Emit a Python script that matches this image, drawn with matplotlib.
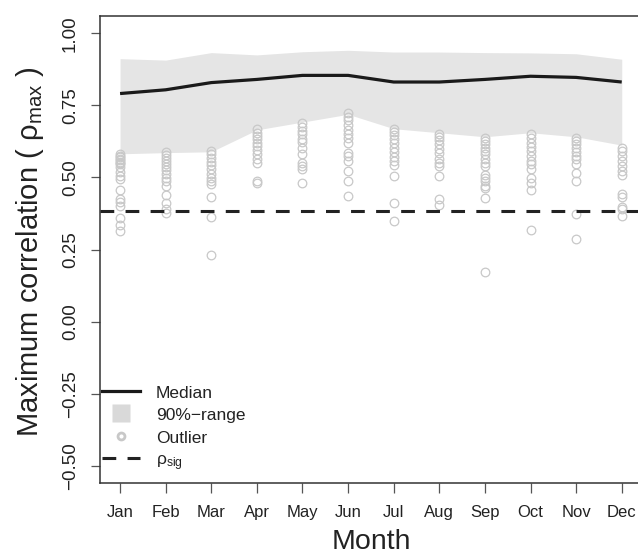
import matplotlib
matplotlib.use("Agg")
import matplotlib.pyplot as plt
from matplotlib.lines import Line2D

plt.rcParams['font.family'] = ['Liberation Sans', 'DejaVu Sans']
plt.rcParams['mathtext.fontset'] = 'custom'
plt.rcParams['mathtext.rm'] = 'Liberation Sans'
plt.rcParams['mathtext.it'] = 'Liberation Sans:italic'
plt.rcParams['mathtext.bf'] = 'Liberation Sans:bold'

months = ["Jan", "Feb", "Mar", "Apr", "May", "Jun", "Jul", "Aug", "Sep", "Oct", "Nov", "Dec"]
median = [0.791, 0.804, 0.829, 0.840, 0.854, 0.854, 0.831, 0.831, 0.840, 0.851, 0.847, 0.831]
upper = [0.912, 0.907, 0.933, 0.925, 0.936, 0.941, 0.935, 0.935, 0.933, 0.932, 0.929, 0.910]
lower = [0.582, 0.586, 0.589, 0.665, 0.692, 0.719, 0.669, 0.655, 0.641, 0.655, 0.641, 0.612]
rho_sig = 0.383

outliers = {
    "Jan": [0.58, 0.575, 0.57, 0.565, 0.56, 0.555, 0.55, 0.545, 0.535, 0.52, 0.505, 0.495,
            0.455, 0.425, 0.415, 0.40, 0.36, 0.335, 0.315],
    "Feb": [0.588, 0.578, 0.568, 0.557, 0.548, 0.537, 0.525, 0.513, 0.499, 0.487, 0.470,
            0.439, 0.412, 0.392, 0.377],
    "Mar": [0.591, 0.580, 0.568, 0.554, 0.542, 0.528, 0.513, 0.499, 0.487, 0.476, 0.433,
            0.364, 0.230],
    "Apr": [0.667, 0.655, 0.643, 0.632, 0.620, 0.609, 0.595, 0.580, 0.565, 0.551, 0.487, 0.482],
    "May": [0.6875, 0.676, 0.661, 0.649, 0.634, 0.623, 0.603, 0.580, 0.551, 0.539, 0.528, 0.479],
    "Jun": [0.722, 0.711, 0.699, 0.682, 0.664, 0.649, 0.638, 0.620, 0.586, 0.574, 0.557,
            0.522, 0.489, 0.435],
    "Jul": [0.669, 0.657, 0.646, 0.632, 0.618, 0.603, 0.588, 0.572, 0.557, 0.542, 0.505,
            0.412, 0.348],
    "Aug": [0.652, 0.641, 0.630, 0.615, 0.600, 0.586, 0.5625, 0.551, 0.539, 0.505, 0.424, 0.403],
    "Sep": [0.638, 0.626, 0.615, 0.603, 0.591, 0.580, 0.5625, 0.551, 0.539, 0.510, 0.499,
            0.487, 0.472, 0.464, 0.429, 0.173],
    "Oct": [0.652, 0.638, 0.620, 0.606, 0.591, 0.574, 0.557, 0.545, 0.530, 0.499, 0.479,
            0.458, 0.317],
    "Nov": [0.638, 0.626, 0.615, 0.603, 0.588, 0.574, 0.5625, 0.545, 0.516, 0.487, 0.372, 0.285],
    "Dec": [0.603, 0.591, 0.574, 0.557, 0.539, 0.522, 0.510, 0.441, 0.433, 0.398, 0.389, 0.366],
}

yticks = [-0.50, -0.25, 0.00, 0.25, 0.50, 0.75, 1.00]
ytick_labels = ["\u22120.50", "\u22120.25", "0.00", "0.25", "0.50", "0.75", "1.00"]

W, H = 638, 557
fig = plt.figure(figsize=(W / 100, H / 100), dpi=100)
left_px, right_px, top_px, bottom_px = 100, 641.8, 16, 483
ax = fig.add_axes([left_px / W, 1 - bottom_px / H, (right_px - left_px) / W, (bottom_px - top_px) / H])

x = list(range(1, 13))
band_col = '#e5e5e5'
out_col = '#c8c8c8'
ax.fill_between(x, lower, upper, color=band_col, linewidth=0, zorder=1)
for i, m in enumerate(months):
    vals = outliers[m]
    ax.plot([x[i]] * len(vals), vals, linestyle='none', marker='o', markersize=6.2,
            markerfacecolor='none', markeredgecolor=out_col, markeredgewidth=0.9, zorder=2)
ax.plot(x, median, color='#1a1a1a', lw=2.3, zorder=3, solid_capstyle='butt')
ax.axhline(rho_sig, color='#222222', lw=2.2, linestyle=(0, (4.5, 3.7)), zorder=4)

ax.set_xlim(0.56, 12.44)
ax.set_ylim(-0.56, 1.06)
ax.set_xticks(x)
ax.set_xticklabels(months, fontsize=12, color='#222222')
ax.set_yticks(yticks)
ax.set_yticklabels(ytick_labels, fontsize=13.5, color='#222222', rotation=90, va='center')

for s in ['left', 'bottom', 'top', 'right']:
    ax.spines[s].set_color('#333333')
    ax.spines[s].set_linewidth(1.1)
ax.tick_params(axis='x', length=7, width=0.9, color='#555555', pad=8.5)
ax.tick_params(axis='y', length=6.6, width=0.9, color='#555555', pad=8.5)

fig.text(30 / W, 1 - 252 / H, r"Maximum correlation ( $\mathregular{\rho_{max}}$ )",
         rotation=90, ha='center', va='center', fontsize=21, color='#222222')
fig.text(371 / W, 1 - 542 / H, "Month", ha='center', va='center', fontsize=20.5, color='#222222')

handles = [
    Line2D([0], [0], color='#1a1a1a', lw=2.3),
    Line2D([0], [0], linestyle='none', marker='s', markersize=13, markerfacecolor='#d9d9d9',
           markeredgecolor='none'),
    Line2D([0], [0], linestyle='none', marker='o', markersize=5, markerfacecolor='none',
           markeredgecolor=out_col, markeredgewidth=2),
    Line2D([0], [0], color='#222222', lw=2.2, linestyle=(0, (4.5, 3.7))),
]
labels = ["Median", "90%\u2212range", "Outlier", r"$\mathregular{\rho_{sig}}$"]
leg = ax.legend(handles, labels, loc='upper left',
                bbox_to_anchor=((102 - left_px) / (right_px - left_px), (bottom_px - 384) / (bottom_px - top_px)),
                frameon=False, fontsize=12.5, handlelength=2.2, handletextpad=0.9,
                labelspacing=0.33, borderaxespad=0, borderpad=0, handleheight=1.0)
for t in leg.get_texts():
    t.set_color('#222222')

fig.savefig("out.png", dpi=100)
